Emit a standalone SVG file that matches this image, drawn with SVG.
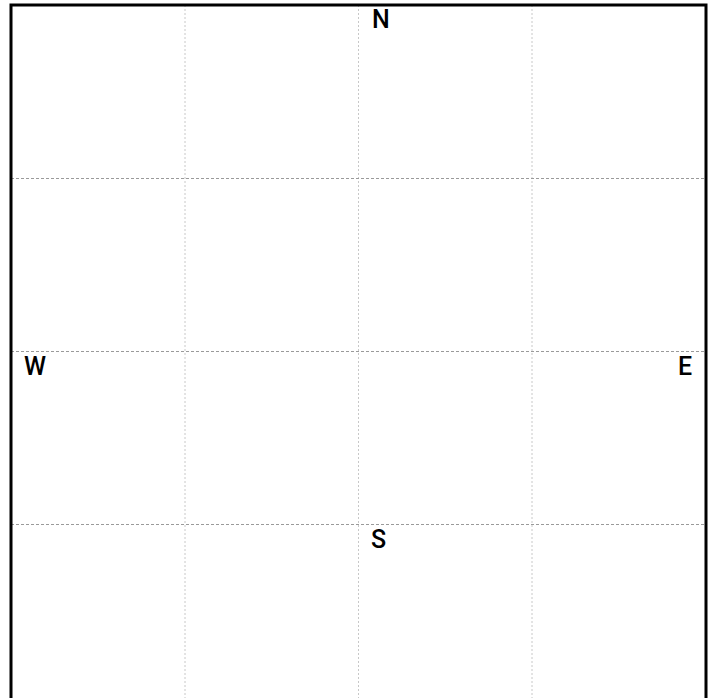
<svg xmlns="http://www.w3.org/2000/svg" width="712" height="698" viewBox="0 0 712 698">
<style>
.h{stroke:#9a9a9a;stroke-width:1;stroke-dasharray:3 2;fill:none}
.v{stroke:#c8c8c8;stroke-width:1;stroke-dasharray:2 2;fill:none}
.lbl{font-family:Roboto,"Liberation Sans",Arial,sans-serif;font-size:25px;font-weight:500;fill:#000}
</style>
<rect width="712" height="698" fill="#fff"/>
<g id="grid">
<line class="v" x1="185" y1="5" x2="185" y2="698"/>
<line class="v" x1="358.5" y1="5" x2="358.5" y2="698"/>
<line class="v" x1="532" y1="5" x2="532" y2="698"/>
<line class="h" x1="11" y1="178.5" x2="706" y2="178.5"/>
<line class="h" x1="11" y1="351.5" x2="706" y2="351.5"/>
<line class="h" x1="11" y1="524.5" x2="706" y2="524.5"/>
</g>
<g id="frame">
<path d="M11 698 V5 H706 V698" fill="none" stroke="#000" stroke-width="3"/>
</g>
<g id="labels">
<text class="lbl" x="372" y="28">N</text>
<text class="lbl" x="24" y="375">W</text>
<text class="lbl" x="692" y="375" text-anchor="end">E</text>
<text class="lbl" x="371" y="548">S</text>
</g>
</svg>
